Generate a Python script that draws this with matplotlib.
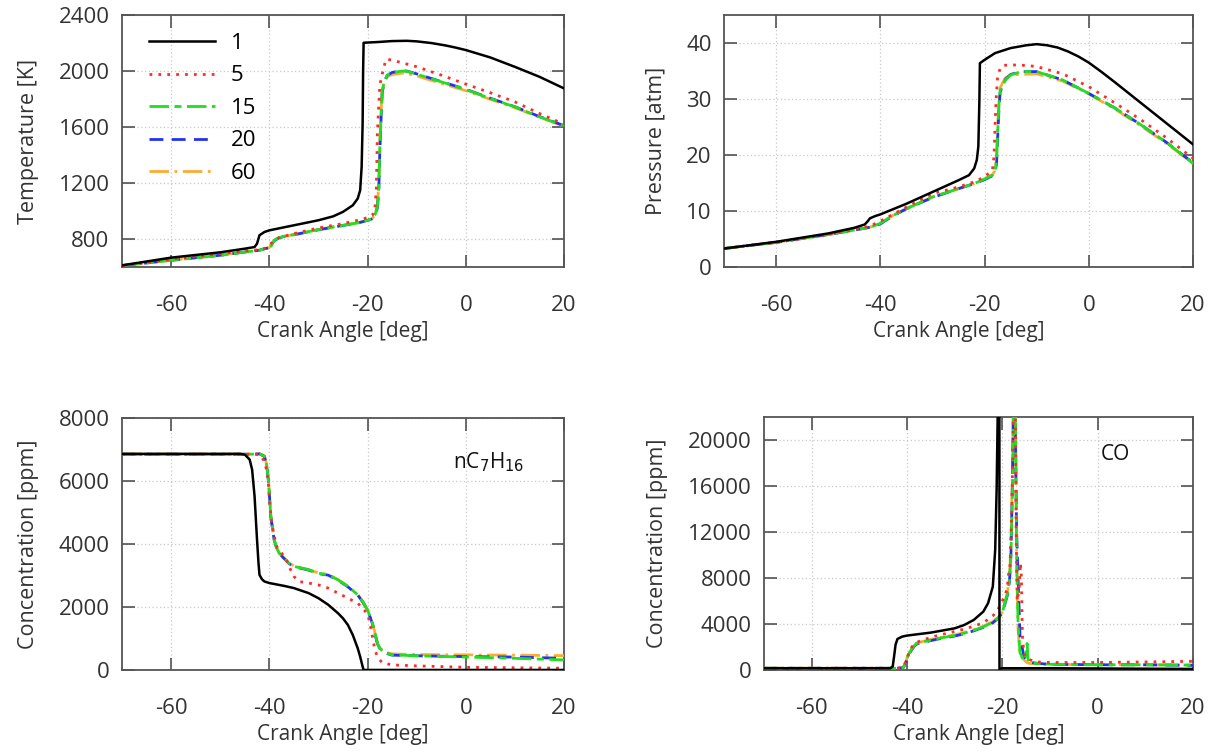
import matplotlib
matplotlib.use("Agg")
import matplotlib.pyplot as plt

plt.rcParams['font.family'] = ['Open Sans', 'DejaVu Sans']
plt.rcParams['axes.unicode_minus'] = False

labels = ["1", "5", "15", "20", "60"]
colors = ["#000000", "#ff2a2a", "#22dd22", "#2233ee", "#ffaa33"]
styles = ["-", (0, (1, 2.2)), (0, (7, 2, 2.5, 2)), (0, (5, 3)), (0, (7, 2, 1, 2))]

# ---------------- temperature [K] ----------------
temp_x1 = [-70, -60, -50, -45, -43, -42.5, -42, -41, -40, -35, -30, -27, -25, -23, -22, -21.5,
           -21.2, -21.0, -20.9, -20.8, -18, -15, -12, -10, -7, -4, -2, 0, 5, 10, 15, 20]
temp_1 = [612, 667, 705, 731, 743, 767, 827, 850, 862, 898, 934, 962, 994, 1041, 1089, 1148,
          1315, 1625, 2000, 2202, 2207, 2214, 2216, 2212, 2200, 2182, 2167, 2150, 2097, 2030, 1959, 1876]
temp_x5 = [-70, -60, -50, -45, -42, -41, -40, -39, -38, -37, -35, -30, -25, -22, -20, -19, -18.5,
           -18.2, -18, -17.8, -17.5, -17, -16.5, -16.2, -15, -10, -5, 0, 5, 10, 15, 20]
temp_5 = [607, 655, 695, 714, 724, 731, 755, 791, 810, 819, 838, 879, 910, 934, 953, 970, 1017,
          1172, 1554, 1700, 1900, 1980, 2050, 2085, 2078, 2031, 1971, 1907, 1845, 1780, 1697, 1620]
temp_x15 = [-70, -60, -50, -45, -42, -41, -40, -39.5, -39, -38, -37, -35, -30, -25, -22, -20, -19,
            -18.5, -18, -17.7, -17.5, -17.2, -17, -16.5, -16, -15, -13, -12, -10, -5, 0, 5, 10, 15, 20]
temp_15 = [610, 648, 683, 707, 719, 731, 738, 755, 791, 810, 819, 831, 867, 898, 915, 934, 946,
           970, 1029, 1172, 1458, 1721, 1864, 1935, 1971, 1988, 2000, 1998, 1978, 1923, 1868, 1804,
           1744, 1673, 1609]
temp_20 = [610, 648, 684, 707, 720, 730, 737, 752, 788, 808, 818, 830, 866, 897, 914, 933, 945,
           968, 1020, 1150, 1430, 1700, 1850, 1930, 1968, 1990, 2002, 2000, 1980, 1925, 1870, 1806,
           1745, 1675, 1610]
temp_60 = [611, 649, 685, 708, 721, 732, 740, 758, 793, 811, 820, 832, 868, 899, 916, 935, 948,
           975, 1040, 1200, 1480, 1740, 1870, 1930, 1960, 1975, 1985, 1982, 1965, 1912, 1860, 1798,
           1738, 1670, 1606]

# ---------------- pressure [atm] ----------------
pres_x1 = [-70, -60, -50, -45, -43, -42.5, -42, -41, -40, -35, -30, -25, -23, -22, -21.5, -21.2,
           -21.0, -20.9, -20, -18, -15, -12, -10, -8, -6, -4, -2, 0, 2.5, 5, 10, 15, 20]
pres_1 = [3.3, 4.5, 6.0, 7.0, 7.6, 8.1, 8.7, 9.1, 9.4, 11.3, 13.4, 15.5, 16.4, 17.6, 19.1, 21.5,
          29.9, 36.4, 37.0, 38.2, 39.1, 39.6, 39.8, 39.6, 39.2, 38.5, 37.6, 36.5, 34.8, 33.0, 29.3,
          25.6, 21.9]
pres_x5 = [-70, -60, -50, -45, -42, -40, -38, -35, -30, -25, -22, -20, -18.5, -18.2, -18, -17.8,
           -17.5, -17, -16.5, -15, -12, -10, -5, 0, 5, 10, 15, 20]
pres_5 = [3.3, 4.4, 5.8, 6.7, 7.3, 8.2, 9.2, 10.7, 13.1, 14.3, 15.2, 16.1, 17.3, 19.7, 25.1, 29.9,
          34.0, 35.5, 36.0, 36.1, 36.0, 35.8, 34.5, 32.2, 29.3, 26.3, 23.0, 19.4]
pres_x15 = [-70, -60, -50, -45, -42, -40, -38, -35, -30, -25, -22, -20, -18.5, -18, -17.7, -17.5,
            -17.2, -17, -16.5, -16, -15, -13, -10, -5, 0, 5, 10, 15, 20]
pres_15 = [3.3, 4.4, 5.8, 6.6, 7.1, 7.8, 9.0, 10.4, 12.5, 14.0, 14.9, 15.7, 16.4, 17.0, 19.1, 23.9,
           29.9, 31.6, 32.5, 33.4, 34.3, 34.9, 34.9, 33.4, 31.0, 28.4, 25.4, 22.2, 18.5]
pres_20 = [3.3, 4.4, 5.8, 6.6, 7.1, 7.7, 8.9, 10.4, 12.4, 14.0, 14.9, 15.6, 16.3, 16.9, 18.5, 23.0,
           29.0, 31.3, 32.5, 33.5, 34.4, 34.9, 34.9, 33.4, 31.0, 28.4, 25.4, 22.2, 18.6]
pres_60 = [3.3, 4.4, 5.8, 6.6, 7.1, 7.8, 9.0, 10.5, 12.5, 14.0, 14.9, 15.7, 16.5, 17.2, 20.0, 25.0,
           30.5, 32.0, 33.0, 33.8, 34.3, 34.4, 34.5, 33.2, 30.9, 28.2, 25.2, 22.0, 18.5]

# ---------------- nC7H16 [ppm] ----------------
hept_x1 = [-70, -50, -46, -45, -44, -43.5, -43, -42.5, -42.2, -42, -41.5, -41, -40, -37, -35, -32,
           -30, -28, -26, -25, -24, -23, -22, -21.5, -21, -20.8, 0, 20]
hept_1 = [6860, 6860, 6860, 6840, 6680, 6360, 5510, 4130, 3390, 3020, 2880, 2810, 2760, 2670, 2600,
          2440, 2280, 2070, 1800, 1640, 1430, 1110, 690, 420, 110, 0, 0, 0]
hept_x5 = [-70, -50, -44, -42, -41, -40.5, -40.2, -40, -39.5, -39, -38.5, -37.5, -36.5, -36, -35,
           -34, -32, -30, -28, -26, -24, -22, -21, -20, -19.5, -19, -18.5, -18, -17.5, -17, -15,
           -10, 0, 20]
hept_5 = [6850, 6850, 6850, 6840, 6630, 6310, 5940, 5410, 4660, 4240, 3920, 3710, 3500, 3290, 2970,
          2810, 2760, 2700, 2600, 2440, 2280, 2120, 1960, 1780, 1480, 1060, 640, 420, 320, 230, 160,
          130, 85, 55]
hept_x15 = [-70, -50, -44, -42, -41, -40.5, -40.2, -40, -39.7, -39.3, -39, -38.5, -38, -37, -36,
            -35, -32, -30, -28, -26, -24, -22, -21, -20, -19, -18.5, -18, -17.5, -17, -16.5, -16,
            -15, -10, 0, 10, 20]
hept_15 = [6850, 6850, 6850, 6860, 6780, 6470, 6040, 5620, 4880, 4450, 4130, 3870, 3710, 3550, 3390,
           3290, 3180, 3070, 3020, 2860, 2650, 2390, 2170, 1910, 1480, 1170, 850, 690, 610, 560, 530,
           480, 450, 410, 370, 320]
hept_20 = [6850, 6850, 6850, 6860, 6780, 6460, 6030, 5600, 4860, 4430, 4120, 3860, 3700, 3540, 3380,
           3280, 3170, 3060, 3010, 2850, 2640, 2380, 2160, 1900, 1470, 1160, 840, 680, 600, 550, 520,
           470, 450, 425, 410, 370]
hept_60 = [6860, 6860, 6860, 6870, 6800, 6500, 6080, 5650, 4900, 4470, 4150, 3880, 3720, 3560, 3400,
           3300, 3190, 3080, 3030, 2870, 2660, 2400, 2180, 1920, 1500, 1190, 870, 710, 630, 580, 550,
           510, 490, 480, 470, 455]

# ---------------- CO [ppm] ----------------
co_x1 = [-70, -50, -45, -43.5, -43, -42.7, -42.4, -42, -41, -40, -35, -30, -28, -26, -24, -23, -22,
         -21.5, -21.2, -21.0, -20.9, -20.62, -20.6, -20, -10, 0, 10, 20]
co_1 = [150, 150, 150, 150, 300, 1200, 2200, 2700, 2900, 2990, 3250, 3620, 3910, 4350, 5070, 5800,
        7250, 10440, 15650, 21450, 25000, 25000, 100, 150, 150, 130, 110, 90]
co_x5 = [-70, -50, -42, -41, -40.5, -40, -39.5, -39, -38, -36, -34, -32, -30, -28, -26, -24, -22,
         -21, -20, -19, -18.7, -18.4, -18, -17.6, -17.3, -17.1, -16.9, -16.5, -16.2, -16, -15.8,
         -15.5, -15, -13, -10, 0, 10, 20]
co_5 = [150, 160, 150, 200, 500, 1000, 1600, 2000, 2400, 2700, 2950, 3150, 3350, 3550, 3800, 4100,
        4700, 5200, 6000, 7000, 8300, 9000, 14000, 25000, 25000, 12000, 6000, 7000, 9300, 8000,
        3000, 1500, 1000, 700, 650, 650, 700, 750]
co_x15 = [-70, -50, -42, -40.8, -40.3, -40, -39.5, -39, -38.5, -38, -36, -34, -32, -30, -28, -26,
          -24, -22, -21, -20, -19, -18.5, -18.2, -17.9, -17.6, -17.4, -17.2, -17.0, -16.7, -16.3,
          -15.5, -15, -14.8, -14.6, -14, -12, -10, 0, 10, 20]
co_15 = [150, 140, 150, 200, 600, 1000, 1500, 1800, 2100, 2300, 2500, 2700, 2850, 3000, 3200, 3450,
         3750, 4150, 4500, 5000, 6500, 7800, 10000, 15000, 25000, 25000, 20000, 10000, 4000, 1500,
         800, 1500, 2300, 900, 600, 550, 500, 450, 450, 420]
co_20 = [150, 150, 150, 200, 550, 950, 1450, 1750, 2050, 2250, 2450, 2650, 2800, 2950, 3150, 3400,
         3700, 4100, 4450, 4950, 6400, 7700, 10000, 16000, 25000, 25000, 18000, 12000, 8000, 3000,
         1200, 900, 800, 700, 650, 550, 500, 450, 450, 400]
co_60 = [160, 150, 150, 220, 650, 1050, 1550, 1850, 2150, 2350, 2550, 2750, 2900, 3050, 3250, 3500,
         3800, 4200, 4550, 5050, 6600, 8000, 11000, 17000, 25000, 25000, 21000, 9000, 3500, 1400,
         900, 700, 650, 600, 550, 500, 480, 460, 450, 430]

panels = [
    dict(rect=[0.0999, 0.6468, 0.3620, 0.3333], ylabel="Temperature [K]", ylim=(600, 2400),
         yticks=[800, 1200, 1600, 2000, 2400],
         series=[(temp_x1, temp_1), (temp_x5, temp_5), (temp_x15, temp_15), (temp_x15, temp_20),
                 (temp_x15, temp_60)]),
    dict(rect=[0.5930, 0.6468, 0.3841, 0.3333], ylabel="Pressure [atm]", ylim=(0, 45),
         yticks=[0, 10, 20, 30, 40],
         series=[(pres_x1, pres_1), (pres_x5, pres_5), (pres_x15, pres_15), (pres_x15, pres_20),
                 (pres_x15, pres_60)]),
    dict(rect=[0.0999, 0.1138, 0.3620, 0.3333], ylabel="Concentration [ppm]", ylim=(0, 8000),
         yticks=[0, 2000, 4000, 6000, 8000], note=("nC$_7$H$_{16}$", 0.83, 0.825),
         series=[(hept_x1, hept_1), (hept_x5, hept_5), (hept_x15, hept_15), (hept_x15, hept_20),
                 (hept_x15, hept_60)]),
    dict(rect=[0.6257, 0.1138, 0.3514, 0.3347], ylabel="Concentration [ppm]", ylim=(0, 22000),
         yticks=[0, 4000, 8000, 12000, 16000, 20000], note=("CO", 0.82, 0.85),
         series=[(co_x1, co_1), (co_x5, co_5), (co_x15, co_15), (co_x15, co_20), (co_x15, co_60)]),
]

fig = plt.figure(figsize=(12.21, 7.56), dpi=100)
axes = []
for p in panels:
    ax = fig.add_axes(p["rect"])
    order = [0, 4, 3, 2, 1]
    for i in order:
        x, y = p["series"][i]
        ax.plot(x, y, color=colors[i], linestyle=styles[i], lw=1.8 if i == 0 else 2.0,
                label=labels[i], zorder=3 + (5 - i) * 0.1 if i else 3.5)
    ax.set_xlim(-70, 20)
    ax.set_ylim(*p["ylim"])
    ax.set_xticks([-60, -40, -20, 0, 20])
    ax.set_yticks(p["yticks"])
    ax.grid(True, color="#c8c8c8", linestyle=(0, (1, 2)), lw=0.9)
    ax.tick_params(direction="in", top=True, right=True, length=9, width=1.1, color="#444444",
                   labelsize=16, labelcolor="#333333")
    ax.tick_params(axis="x", pad=20)
    ax.tick_params(axis="y", pad=9)
    for s in ax.spines.values():
        s.set_color("#555555")
        s.set_linewidth(1.3)
    ax.set_xlabel("Crank Angle [deg]", fontsize=15, color="#333333", labelpad=4)
    ax.set_ylabel(p["ylabel"], fontsize=15.5, color="#333333", labelpad=14)
    if "note" in p:
        txt, tx, ty = p["note"]
        ax.text(tx, ty, txt, transform=ax.transAxes, ha="center", va="center", fontsize=15,
                color="#111111")
    axes.append(ax)

h, l = axes[0].get_legend_handles_labels()
lut = dict(zip(l, h))
axes[0].legend([lut[k] for k in labels], labels, loc="upper left", bbox_to_anchor=(0.04, 0.965),
               frameon=False, fontsize=16, handlelength=3.0, handletextpad=0.7, labelspacing=0.52,
               borderaxespad=0)

fig.savefig("out.png", dpi=100)
